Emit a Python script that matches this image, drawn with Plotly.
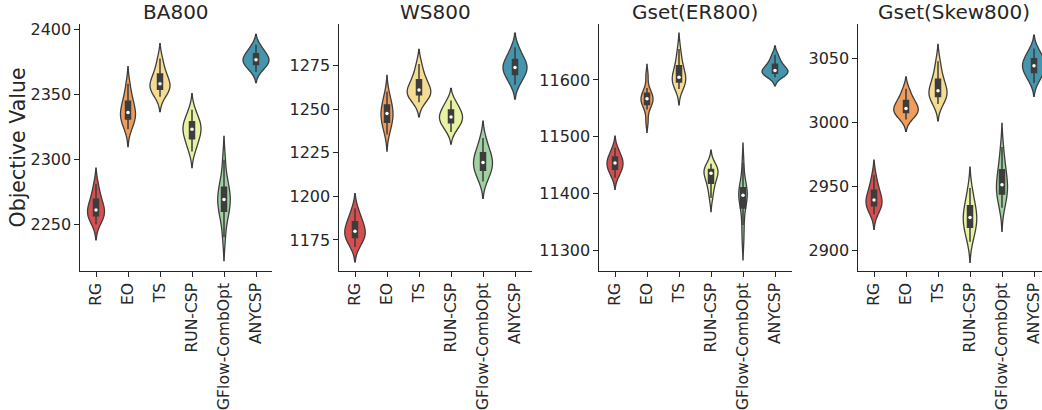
import numpy as np
import plotly.graph_objects as go

methods = ["RG", "EO", "TS", "RUN-CSP", "GFlow-CombOpt", "ANYCSP"]
panel_titles = ["BA800", "WS800", "Gset(ER800)", "Gset(Skew800)"]

# objective values per method (estimated samples)
ba800 = [
    [2250, 2254, 2256, 2258, 2259.5, 2261, 2263.5, 2266.5, 2270, 2274, 2281],
    [2323, 2327.5, 2330.5, 2332.5, 2334, 2336, 2339, 2342, 2345.5, 2350, 2358],
    [2348, 2351.5, 2353.5, 2355, 2356.5, 2358, 2360.5, 2363, 2366.5, 2370.5, 2377.5],
    [2306, 2311.5, 2315, 2318, 2320.5, 2323, 2325, 2327, 2329.5, 2332.5, 2338],
    [2240, 2254, 2259, 2263, 2266, 2269, 2272, 2275.5, 2279.5, 2285, 2299.5],
    [2367, 2370.5, 2372.5, 2374, 2375.5, 2376.5, 2378, 2380, 2381.5, 2384, 2388],
]
ws800 = [
    [1171, 1174, 1176, 1177.5, 1179, 1180, 1182, 1184, 1186, 1188.5, 1193],
    [1235.5, 1239.5, 1242, 1244, 1245.5, 1247.5, 1249, 1251, 1253, 1255.5, 1260],
    [1254, 1256.5, 1258, 1259, 1260, 1261, 1263, 1265, 1267.5, 1270.5, 1276],
    [1237, 1240, 1242, 1243, 1244.5, 1245.5, 1247, 1248.5, 1250, 1252, 1255],
    [1208.5, 1212, 1214.5, 1216.5, 1218, 1219.5, 1221.5, 1223.5, 1225.5, 1228.5, 1233.5],
    [1264, 1267.5, 1269.5, 1271.5, 1273, 1274, 1275.5, 1277, 1279, 1281.5, 1285.5],
]
er800 = [
    [11428, 11437, 11442, 11446, 11450, 11454, 11457, 11461, 11466, 11471, 11481],
    [11527, 11548, 11556, 11560, 11563, 11567, 11570, 11573, 11578, 11586, 11608],
    [11584, 11591.5, 11595.5, 11599, 11602, 11605, 11611.5, 11618.5, 11627, 11637, 11654.5],
    [11392.5, 11407.5, 11416.5, 11424, 11430, 11436, 11438.5, 11440.5, 11443.5, 11447, 11453],
    [11318, 11345, 11368, 11382, 11390, 11395, 11399.5, 11403, 11407, 11414, 11428, 11455],
    [11605, 11609, 11611.5, 11613, 11615, 11616.5, 11620, 11624, 11629, 11635, 11644.5],
]
skew800 = [
    [2928.5, 2932.5, 2934.5, 2936.5, 2938, 2939.5, 2942, 2945, 2948, 2952, 2959],
    [3002.5, 3005.5, 3007.5, 3009, 3010, 3011, 3013.5, 3015.5, 3018, 3021, 3026.5],
    [3014.5, 3018, 3020, 3022, 3023.5, 3025, 3028, 3031, 3035, 3040, 3048],
    [2907, 2913.5, 2917.5, 2920.5, 2923.5, 2926, 2929, 2932.5, 2936, 2941, 2949],
    [2933.5, 2939.5, 2943.5, 2946.5, 2949, 2951.5, 2955.5, 2959.5, 2964.5, 2970.5, 2981],
    [3031, 3036, 3038.5, 3041, 3042.5, 3044.5, 3046.5, 3048.5, 3050.5, 3053.5, 3058],
]
datasets = [ba800, ws800, er800, skew800]

# axis settings
y_ranges = [[2214, 2404], [1157.2, 1298.9], [11264.3, 11698.4], [2884.1, 3077.1]]
y_dticks = [50, 25, 100, 50]

# styling
colors = ["#d44f4f", "#ee9d5c", "#f5dc92", "#e9f2a2", "#9fd2a0", "#4596ad"]
gray = "#3d3d3d"
W, H = 1042, 410
x_px = [(80, 272), (339, 532), (599, 792), (858, 1042)]
top_px, bot_px = 24, 271
spacing = 32.0
# violin full widths in px (seaborn area scaling)
vwidths = [
    [17, 15, 20, 18, 12.5, 26],
    [20.5, 12, 23.5, 23, 19, 24],
    [16, 12, 13.5, 14, 8.5, 26],
    [16, 24.5, 18, 13.5, 11, 23],
]
font = "DejaVu Sans"

fig = go.Figure()
for p, data in enumerate(datasets):
    xa = "x" if p == 0 else f"x{p+1}"
    ya = "y" if p == 0 else f"y{p+1}"
    for i, m in enumerate(methods):
        vals = data[i]
        w = vwidths[p][i]
        fig.add_trace(go.Violin(
            x=[m] * len(vals), y=vals, name=m,
            width=w / spacing, scalemode="width", spanmode="soft",
            fillcolor=colors[i], opacity=1,
            line=dict(color=gray, width=1.3),
            box=dict(visible=True, width=5.0 / w, fillcolor=gray,
                     line=dict(color=gray, width=1.5)),
            meanline=dict(visible=False), points=False,
            showlegend=False, hoverinfo="skip",
            xaxis=xa, yaxis=ya,
        ))
        fig.add_trace(go.Scatter(
            x=[m], y=[float(np.median(vals))], mode="markers",
            marker=dict(color="white", size=3.5, line=dict(width=0)),
            showlegend=False, hoverinfo="skip", xaxis=xa, yaxis=ya,
        ))

layout = dict(
    width=W, height=H, margin=dict(l=0, r=0, t=0, b=0),
    paper_bgcolor="white", plot_bgcolor="white",
    violinmode="overlay", showlegend=False,
    font=dict(family=font, color="#262626"),
)
y0 = 1 - bot_px / H
y1 = 1 - top_px / H
annotations = []
for p in range(4):
    xk = "xaxis" if p == 0 else f"xaxis{p+1}"
    yk = "yaxis" if p == 0 else f"yaxis{p+1}"
    xl, xr = x_px[p]
    xmax = -0.5 + (xr - xl) / spacing
    layout[xk] = dict(
        domain=[xl / W, xr / W], anchor="y" if p == 0 else f"y{p+1}",
        type="category", categoryorder="array", categoryarray=methods,
        range=[-0.5, xmax], showgrid=False, zeroline=False,
        showline=True, linecolor="#262626", linewidth=1.25,
        ticks="outside", ticklen=4.5, tickwidth=1.25, tickcolor="#262626",
        tickangle=-90, tickfont=dict(size=15.6, family=font, color="#262626"),
        automargin=False,
    )
    layout[yk] = dict(
        domain=[y0, y1], anchor="x" if p == 0 else f"x{p+1}",
        range=y_ranges[p], dtick=y_dticks[p], tickformat="d",
        showgrid=False, zeroline=False,
        showline=True, linecolor="#262626", linewidth=1.25,
        ticks="outside", ticklen=4.5, tickwidth=1.25, tickcolor="#262626",
        tickfont=dict(size=16, family=font, color="#262626"),
        automargin=False,
    )
    annotations.append(dict(
        text=panel_titles[p], xref="paper", yref="paper",
        x=(xl + (xl + 6 * spacing)) / 2 / W, y=1 - 12 / H,
        xanchor="center", yanchor="middle", showarrow=False,
        font=dict(size=20, family=font, color="#262626"),
    ))
annotations.append(dict(
    text="Objective Value", xref="paper", yref="paper",
    x=17 / W, y=(y0 + y1) / 2, textangle=-90,
    xanchor="center", yanchor="middle", showarrow=False,
    font=dict(size=20.5, family=font, color="#262626"),
))
layout["annotations"] = annotations
fig.update_layout(**layout)
fig.write_html("out.html", config={"displayModeBar": False},
               post_script="document.body.style.margin='0';document.body.style.overflow='hidden';")
